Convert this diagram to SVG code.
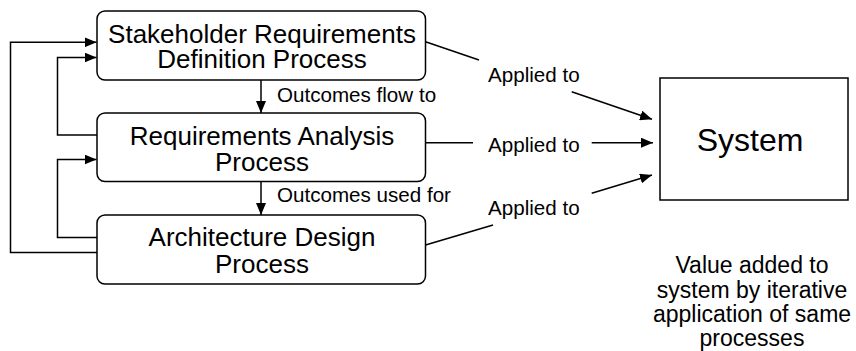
<svg xmlns="http://www.w3.org/2000/svg" width="856" height="351" viewBox="0 0 856 351">
<style>
.box{fill:#fff;stroke:#000;stroke-width:1.5}
.ln{fill:none;stroke:#000;stroke-width:1.5}
.t{font-family:"Liberation Sans",Arial,sans-serif;fill:#000;text-anchor:middle}
.big{font-size:26px}
.sm{font-size:20.6px}
.val{font-size:23px}
.lbl{font-family:"Liberation Sans",Arial,sans-serif;fill:#000;font-size:20.6px}
</style>
<defs>
<marker id="ah" viewBox="0 0 12 10" refX="12" refY="5" markerWidth="12" markerHeight="10" markerUnits="userSpaceOnUse" orient="auto">
<path d="M0,0 L12,5 L0,10 z" fill="#000"/>
</marker>
</defs>
<g id="connectors">
<path class="ln" d="M97,252.5 H10.5 V42.3 H96.5" marker-end="url(#ah)"/>
<path class="ln" d="M97,135 H57.5 V57.5 H96.5" marker-end="url(#ah)"/>
<path class="ln" d="M97,237.5 H57.5 V159.5 H96.5" marker-end="url(#ah)"/>
<path class="ln" d="M261,80 V113" marker-end="url(#ah)"/>
<path class="ln" d="M261,181.5 V215" marker-end="url(#ah)"/>
<path class="ln" d="M425.5,41.7 L479,60"/>
<path class="ln" d="M571.7,91.7 L652,119.3" marker-end="url(#ah)"/>
<path class="ln" d="M425.5,142.7 H473"/>
<path class="ln" d="M591.7,142.7 H653" marker-end="url(#ah)"/>
<path class="ln" d="M425.5,245 L493,225"/>
<path class="ln" d="M591.7,193.3 L652,175" marker-end="url(#ah)"/>
<text class="lbl" x="277" y="101.7">Outcomes flow to</text>
<text class="lbl" x="277" y="201.7">Outcomes used for</text>
<text class="lbl" x="488" y="81.7">Applied to</text>
<text class="lbl" x="488" y="151.5">Applied to</text>
<text class="lbl" x="488" y="215">Applied to</text>
</g>
<g id="stakeholder">
<rect class="box" x="97" y="11" width="328.5" height="69" rx="8"/>
<text class="t big" x="262" y="42.7">Stakeholder Requirements</text>
<text class="t big" x="262" y="68.3">Definition Process</text>
</g>
<g id="analysis">
<rect class="box" x="97" y="113" width="328.5" height="68.5" rx="8"/>
<text class="t big" x="262" y="145">Requirements Analysis</text>
<text class="t big" x="262" y="171">Process</text>
</g>
<g id="architecture">
<rect class="box" x="97" y="215" width="328.5" height="69" rx="8"/>
<text class="t big" x="262" y="246">Architecture Design</text>
<text class="t big" x="262" y="272.5">Process</text>
</g>
<g id="system">
<rect class="box" x="660" y="78" width="188" height="122"/>
<text class="t" style="font-size:32px" x="750" y="150.7">System</text>
</g>
<g id="note">
<text class="t val" x="752" y="273">Value added to</text>
<text class="t val" x="752" y="297.5">system by iterative</text>
<text class="t val" x="752" y="322">application of same</text>
<text class="t val" x="752" y="346">processes</text>
</g>
</svg>
